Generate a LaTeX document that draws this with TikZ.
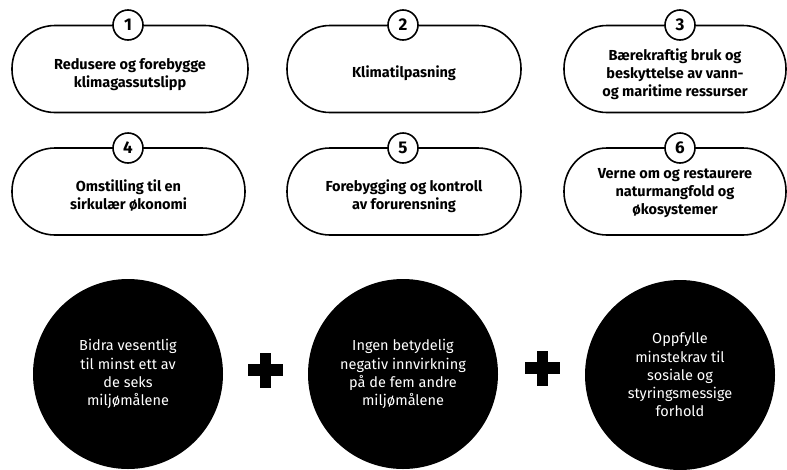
\documentclass[tikz,border=0pt]{standalone}
\usepackage{fontspec}
\setmainfont{Fira Sans}
\begin{document}
\begin{tikzpicture}[x=1pt,y=-1pt,
  goal/.style={draw=black,line width=1.6pt,rounded corners=43pt,minimum height=87pt,inner sep=0pt},
  goaltext/.style={align=center,font=\fontsize{14.5}{18}\selectfont\bfseries,inner sep=0pt},
  num/.style={circle,draw=black,fill=white,line width=1.6pt,minimum size=30pt,inner sep=0pt,
    font=\fontsize{17}{17}\selectfont\bfseries},
  crit/.style={circle,fill=black,minimum size=190pt,inner sep=0pt,align=center,text=white,
    font=\fontsize{14.5}{18.2}\selectfont},
  plusbar/.style={fill=black}]
\useasboundingbox (0,0) rectangle (787,469);
% row 1
\node[goal,minimum width=236pt] (g1) at (130,69) {};
\node[goal,minimum width=234pt] (g2) at (404,69) {};
\node[goal,minimum width=222pt] (g3) at (675,69) {};
\node[goaltext] (t1) at ([yshift=-6pt]g1.center) {Redusere og forebygge\\klimagassutslipp};
\node[goaltext] (t2) at ([yshift=-4pt]g2.center) {Klimatilpasning};
\node[goaltext] (t3) at ([yshift=-5pt]g3.center) {Bærekraftig bruk og\\beskyttelse av vann-\\og maritime ressurser};
\node[num] (n1) at (128,25) {1};
\node[num] (n2) at (403,25) {2};
\node[num] (n3) at (680,25) {3};
% row 2
\node[goal,minimum width=233pt] (g4) at (128.5,191.5) {};
\node[goal,minimum width=234pt] (g5) at (404,191.5) {};
\node[goal,minimum width=222pt] (g6) at (675,191.5) {};
\node[goaltext] (t4) at ([yshift=-4pt]g4.center) {Omstilling til en\\sirkulær økonomi};
\node[goaltext] (t5) at ([yshift=-5pt]g5.center) {Forebygging og kontroll\\av forurensning};
\node[goaltext] (t6) at ([yshift=-2pt]g6.center) {Verne om og restaurere\\naturmangfold og\\økosystemer};
\node[num] (n4) at (128,148) {4};
\node[num] (n5) at (403,148) {5};
\node[num] (n6) at (680,148) {6};
% criteria
\node[crit] (c1) at (128,374) {Bidra vesentlig\\til minst ett av\\de seks\\miljømålene};
\node[crit] (c2) at (403,374) {Ingen betydelig\\negativ innvirkning\\på de fem andre\\miljømålene};
\node[crit] (c3) at (680,375) {Oppfylle\\minstekrav til\\sosiale og\\styringsmessige\\forhold};
% plus signs
\coordinate (p1) at (265.5,370);
\coordinate (p2) at (542,368);
\foreach \p in {p1,p2}{
  \fill[plusbar] ([xshift=-17.5pt,yshift=6pt]\p) rectangle ([xshift=17.5pt,yshift=-6pt]\p);
  \fill[plusbar] ([xshift=-5.5pt,yshift=17.5pt]\p) rectangle ([xshift=5.5pt,yshift=-17.5pt]\p);
}
\end{tikzpicture}
\end{document}
